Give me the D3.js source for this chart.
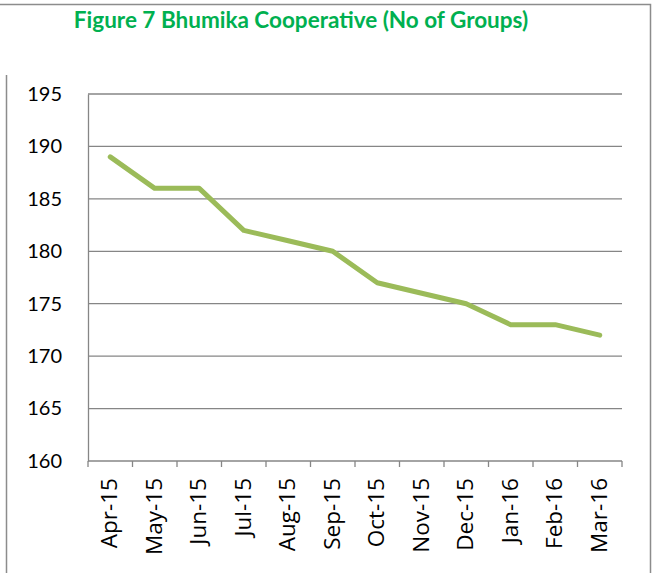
<!DOCTYPE html>
<html>
<head>
<meta charset="utf-8">
<script src="https://cdn.jsdelivr.net/npm/d3@7"></script>
<style>
  body { margin: 0; background: #fff; }
  svg { display: block; }
  .tick text { font-family: Lato, "Open Sans", sans-serif; fill: #000; }
</style>
</head>
<body>
<div id="chart"></div>
<script>
// chart data
const months = ['Apr-15', 'May-15', 'Jun-15', 'Jul-15', 'Aug-15', 'Sep-15',
                'Oct-15', 'Nov-15', 'Dec-15', 'Jan-16', 'Feb-16', 'Mar-16'];
const groups = [189, 186, 186, 182, 181, 180, 177, 176, 175, 173, 173, 172];
const yTicks = [160, 165, 170, 175, 180, 185, 190, 195];
const title = 'Figure 7 Bhumika Cooperative (No of Groups)';

const width = 658, height = 573;
const margin = {top: 94, right: 36, bottom: 112, left: 88};
const innerW = width - margin.left - margin.right;
const innerH = height - margin.top - margin.bottom;

const svg = d3.select('#chart').append('svg')
    .attr('width', width)
    .attr('height', height);

// outer frame
svg.append('path')
    .attr('d', 'M0,4.5H650.5V573 M6.5,75V573')
    .attr('fill', 'none')
    .attr('stroke', '#8c8c8c')
    .attr('stroke-width', 1.5);

svg.append('text')
    .attr('x', 301)
    .attr('y', 28)
    .attr('text-anchor', 'middle')
    .style('font-family', 'Lato, "Open Sans", sans-serif')
    .style('font-weight', 'bold')
    .style('font-size', '22.5px')
    .style('fill', '#00b050')
    .text(title);

const chart = svg.append('g')
    .attr('transform', `translate(${margin.left},${margin.top})`);

const xScale = d3.scaleBand().domain(months).range([0, innerW]);
const yScale = d3.scaleLinear().domain([160, 195]).range([innerH, 0]);

// gridlines
chart.append('g')
  .selectAll('line')
  .data(yTicks.filter(d => d > 160))
  .join('line')
    .attr('x1', 0)
    .attr('x2', innerW)
    .attr('y1', d => yScale(d))
    .attr('y2', d => yScale(d))
    .attr('stroke', '#868686')
    .attr('stroke-width', 1.3);

// y axis
const yAxisG = chart.append('g')
    .call(d3.axisLeft(yScale).tickValues(yTicks).tickSize(0).tickPadding(26))
    .call(g => g.selectAll('.tick text').style('font-size', '20px'));
yAxisG.select('.domain').attr('stroke', '#868686').attr('stroke-width', 1.3);

// x axis with ticks at band boundaries
const xAxisG = chart.append('g')
    .attr('transform', `translate(0,${innerH})`);
xAxisG.append('line')
    .attr('x1', 0).attr('x2', innerW)
    .attr('stroke', '#868686').attr('stroke-width', 1.3);
xAxisG.selectAll('.bound')
  .data(months.concat(['end']))
  .join('line')
    .attr('class', 'bound')
    .attr('x1', (d, i) => i * xScale.step())
    .attr('x2', (d, i) => i * xScale.step())
    .attr('y1', 0).attr('y2', 6)
    .attr('stroke', '#868686').attr('stroke-width', 1.3);
xAxisG.selectAll('.lbl')
  .data(months)
  .join('text')
    .attr('class', 'lbl')
    .attr('transform', d => `translate(${xScale(d) + xScale.bandwidth() / 2 + 7},17) rotate(-90)`)
    .attr('text-anchor', 'end')
    .style('font-family', '"Open Sans", sans-serif')
    .style('font-size', '22.5px')
    .text(d => d);

// line
const line = d3.line()
    .x((d, i) => xScale(months[i]) + xScale.bandwidth() / 2)
    .y(d => yScale(d));

chart.append('path')
    .datum(groups)
    .attr('fill', 'none')
    .attr('stroke', '#9bbb59')
    .attr('stroke-width', 5)
    .attr('stroke-linejoin', 'round')
    .attr('stroke-linecap', 'round')
    .attr('d', line);
</script>
</body>
</html>
